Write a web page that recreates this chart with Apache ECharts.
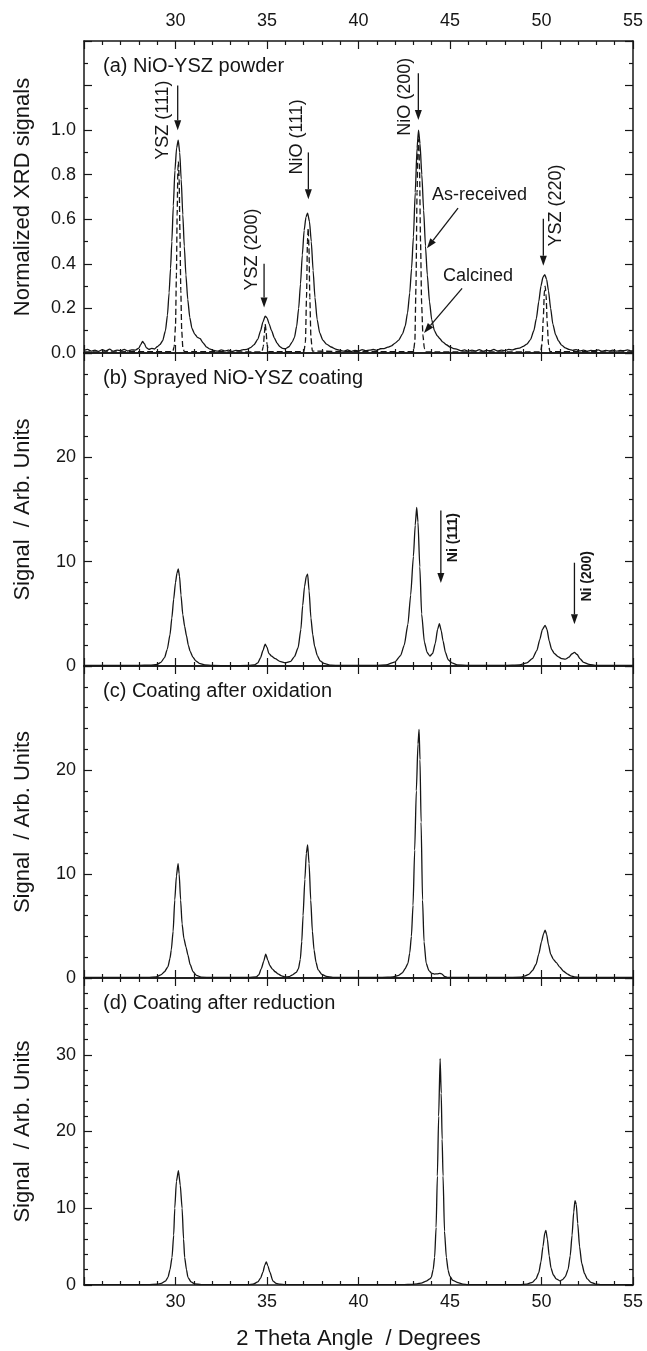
<!DOCTYPE html>
<html>
<head>
<meta charset="utf-8">
<title>XRD patterns of NiO-YSZ</title>
<script src="https://cdn.jsdelivr.net/npm/echarts@6/dist/echarts.min.js"></script>
<style>
  html, body { margin: 0; padding: 0; background: #fff; }
  #chart { width: 647px; height: 1351px; }
</style>
</head>
<body>
<div id="chart"></div>
<script>
// 2θ axis shared by all four panels
const angleMin = 25
const angleMax = 55
const angleStep = 5

const panelTitles = ['(a) NiO-YSZ powder', '(b) Sprayed NiO-YSZ coating', '(c) Coating after oxidation', '(d) Coating after reduction']
const yNames = ['Normalized XRD signals', 'Signal  / Arb. Units', 'Signal  / Arb. Units', 'Signal  / Arb. Units']
const yMax = [1.4, 30, 30, 40]
const yStep = [0.2, 10, 10, 10]
const yMinorSplit = [2, 5, 5, 5]

// (a) powder, as-received (solid) and calcined (dashed)
const asReceived = [
  [25.0,0.012],[25.2,0.016],[25.4,0.008],[25.6,0.013],[25.8,0.007],[26.0,0.015],[26.2,0.009],[26.4,0.017],[26.6,0.008],[26.8,0.013],
  [27.0,0.01],[27.2,0.016],[27.4,0.009],[27.6,0.014],[27.8,0.013],[28.0,0.022],[28.1,0.038],[28.2,0.052],[28.3,0.042],[28.4,0.024],
  [28.55,0.016],[28.7,0.021],[28.85,0.018],[29.0,0.028],[29.15,0.038],[29.3,0.055],[29.45,0.1],[29.56,0.17],[29.65,0.27],[29.73,0.38],
  [29.8,0.5],[29.88,0.66],[29.97,0.82],[30.06,0.92],[30.15,0.955],[30.23,0.9],[30.31,0.78],[30.4,0.62],[30.48,0.48],[30.57,0.35],
  [30.67,0.24],[30.78,0.16],[30.9,0.11],[31.05,0.085],[31.2,0.07],[31.35,0.064],[31.5,0.046],[31.7,0.026],[31.9,0.017],[32.1,0.012],
  [32.3,0.008],[32.5,0.014],[32.7,0.009],[32.9,0.013],[33.1,0.007],[33.3,0.012],[33.5,0.01],[33.7,0.015],[33.9,0.016],[34.1,0.024],
  [34.3,0.038],[34.5,0.062],[34.65,0.1],[34.78,0.14],[34.9,0.165],[35.0,0.158],[35.12,0.13],[35.25,0.1],[35.4,0.068],[35.55,0.044],
  [35.7,0.029],[35.85,0.021],[36.0,0.019],[36.2,0.028],[36.38,0.05],[36.5,0.07],[36.62,0.12],[36.73,0.2],[36.83,0.31],[36.93,0.44],
  [37.03,0.55],[37.13,0.61],[37.22,0.628],[37.32,0.59],[37.42,0.5],[37.52,0.37],[37.62,0.25],[37.74,0.15],[37.88,0.09],[38.05,0.058],
  [38.25,0.04],[38.5,0.027],[38.8,0.016],[39.0,0.012],[39.2,0.008],[39.4,0.014],[39.6,0.007],[39.8,0.012],[40.0,0.009],[40.2,0.015],
  [40.4,0.01],[40.6,0.013],[40.8,0.016],[41.0,0.012],[41.2,0.019],[41.4,0.02],[41.6,0.026],[41.8,0.032],[42.0,0.044],[42.2,0.058],
  [42.4,0.085],[42.55,0.12],[42.68,0.18],[42.8,0.27],[42.9,0.38],[43.0,0.52],[43.1,0.72],[43.2,0.92],[43.28,1.0],[43.36,0.94],
  [43.46,0.8],[43.56,0.64],[43.66,0.48],[43.76,0.35],[43.88,0.23],[44.0,0.15],[44.15,0.1],[44.3,0.078],[44.45,0.064],[44.6,0.05],
  [44.8,0.037],[45.0,0.027],[45.2,0.02],[45.4,0.016],[45.6,0.01],[45.8,0.014],[46.0,0.008],[46.2,0.013],[46.4,0.009],[46.6,0.015],
  [46.8,0.008],[47.0,0.012],[47.2,0.01],[47.4,0.016],[47.6,0.009],[47.8,0.013],[48.0,0.011],[48.2,0.016],[48.4,0.014],[48.6,0.019],
  [48.8,0.022],[49.0,0.03],[49.2,0.04],[49.4,0.06],[49.58,0.1],[49.72,0.155],[49.85,0.23],[49.97,0.3],[50.08,0.34],[50.18,0.352],
  [50.28,0.33],[50.38,0.28],[50.5,0.2],[50.62,0.13],[50.77,0.082],[50.93,0.054],[51.1,0.035],[51.3,0.023],[51.5,0.016],[51.7,0.012],
  [51.9,0.015],[52.1,0.009],[52.3,0.013],[52.5,0.008],[52.7,0.012],[52.9,0.01],[53.1,0.014],[53.3,0.008],[53.5,0.012],[53.7,0.009],
  [53.9,0.013],[54.1,0.008],[54.3,0.012],[54.5,0.01],[54.7,0.014],[54.9,0.009],[55.0,0.011]
]
const calcined = [
  [25.0,0.005],[29.85,0.006],[29.93,0.03],[30.0,0.12],[30.05,0.35],[30.09,0.62],[30.13,0.82],[30.16,0.86],[30.2,0.78],[30.24,0.55],
  [30.29,0.28],[30.34,0.1],[30.4,0.025],[30.48,0.006],
  [34.72,0.005],[34.8,0.03],[34.86,0.09],[34.9,0.13],[34.95,0.1],[35.0,0.04],[35.08,0.006],
  [37.02,0.006],[37.1,0.05],[37.16,0.25],[37.21,0.5],[37.25,0.56],[37.29,0.48],[37.34,0.25],[37.4,0.07],[37.48,0.008],
  [43.0,0.006],[43.08,0.05],[43.14,0.3],[43.2,0.72],[43.25,0.93],[43.29,0.96],[43.33,0.85],[43.39,0.5],[43.45,0.22],[43.52,0.08],
  [43.6,0.02],[43.66,0.005],
  [49.95,0.005],[50.03,0.04],[50.1,0.16],[50.16,0.28],[50.2,0.3],[50.25,0.26],[50.31,0.14],[50.38,0.04],[50.46,0.006],[55.0,0.005]
]

// (b) sprayed coating
const sprayed = [
  [25.0,0.05],[26.0,0.05],[27.0,0.05],[28.0,0.06],[28.6,0.08],[29.0,0.15],[29.2,0.35],[29.4,0.8],[29.55,1.6],[29.7,3.0],
  [29.8,4.6],[29.9,6.4],[30.0,8.0],[30.08,8.9],[30.15,9.3],[30.22,8.6],[30.3,6.8],[30.4,4.9],[30.5,3.8],[30.6,2.9],
  [30.7,2.0],[30.8,1.4],[30.95,0.85],[31.1,0.5],[31.3,0.25],[31.6,0.1],[32.0,0.05],[33.0,0.04],[34.0,0.05],[34.3,0.1],
  [34.5,0.3],[34.65,0.8],[34.78,1.5],[34.9,2.1],[35.0,1.8],[35.1,1.2],[35.25,0.95],[35.45,0.7],[35.7,0.45],[36.0,0.3],
  [36.3,0.45],[36.5,0.9],[36.7,1.75],[36.85,3.5],[36.95,5.8],[37.05,7.6],[37.15,8.6],[37.22,8.8],[37.3,7.2],[37.4,4.6],
  [37.5,3.0],[37.6,1.9],[37.75,1.0],[37.9,0.5],[38.1,0.25],[38.5,0.08],[39.0,0.05],[40.0,0.05],[41.0,0.05],[41.5,0.1],
  [42.0,0.4],[42.3,1.0],[42.5,2.0],[42.7,4.0],[42.85,6.8],[43.0,10.5],[43.1,13.5],[43.18,15.2],[43.25,13.8],[43.35,9.5],
  [43.45,5.0],[43.6,2.3],[43.75,1.3],[43.9,0.95],[44.05,1.2],[44.2,2.2],[44.32,3.5],[44.42,4.05],[44.52,3.4],[44.62,2.4],
  [44.75,1.3],[44.9,0.6],[45.1,0.3],[45.4,0.1],[46.0,0.05],[47.0,0.05],[48.0,0.05],[48.8,0.1],[49.2,0.3],[49.5,0.7],
  [49.75,1.5],[49.9,2.5],[50.05,3.5],[50.2,3.9],[50.3,3.5],[50.42,2.4],[50.55,1.6],[50.7,1.2],[50.9,0.9],[51.1,0.7],
  [51.3,0.65],[51.5,0.85],[51.65,1.15],[51.8,1.3],[51.95,1.1],[52.1,0.7],[52.3,0.35],[52.6,0.15],[53.0,0.05],[54.0,0.05],[55.0,0.05]
]

// (c) after oxidation
const oxidized = [
  [25.0,0.05],[27.0,0.05],[28.5,0.06],[28.95,0.1],[29.2,0.3],[29.4,0.6],[29.59,1.1],[29.7,1.9],[29.77,2.7],[29.87,4.5],
  [29.96,7.5],[30.05,9.8],[30.14,11.0],[30.2,10.0],[30.28,7.5],[30.36,5.2],[30.46,3.8],[30.57,3.0],[30.68,2.2],[30.8,1.3],
  [30.96,0.6],[31.15,0.25],[31.4,0.08],[32.0,0.05],[34.0,0.05],[34.4,0.1],[34.55,0.3],[34.69,0.9],[34.82,1.6],[34.93,2.3],
  [35.05,1.7],[35.15,1.2],[35.3,0.85],[35.45,0.6],[35.6,0.4],[35.8,0.2],[35.97,0.1],[36.2,0.12],[36.4,0.3],[36.6,0.55],
  [36.72,0.9],[36.82,1.8],[36.9,3.5],[36.97,6.0],[37.07,9.5],[37.15,12.0],[37.22,12.8],[37.3,11.0],[37.39,7.5],[37.48,4.5],
  [37.57,2.7],[37.68,1.5],[37.79,0.8],[38.0,0.35],[38.24,0.15],[38.6,0.06],[39.5,0.05],[41.0,0.05],[41.6,0.08],[41.89,0.1],
  [42.2,0.25],[42.4,0.5],[42.55,0.9],[42.7,1.4],[42.8,2.4],[42.89,4.0],[42.98,7.0],[43.07,12.3],[43.16,18.0],[43.25,22.5],
  [43.31,23.9],[43.36,21.0],[43.42,15.0],[43.5,7.5],[43.58,3.5],[43.7,1.4],[43.85,0.7],[44.0,0.45],[44.15,0.38],[44.3,0.4],
  [44.45,0.45],[44.55,0.4],[44.7,0.15],[44.85,0.05],[46.0,0.05],[48.0,0.05],[48.86,0.08],[49.1,0.2],[49.3,0.35],[49.5,0.7],
  [49.7,1.3],[49.85,2.3],[50.0,3.5],[50.12,4.3],[50.2,4.6],[50.28,4.2],[50.38,3.2],[50.5,2.3],[50.65,1.8],[50.8,1.5],
  [51.0,1.05],[51.2,0.65],[51.4,0.4],[51.6,0.2],[51.8,0.1],[52.1,0.05],[55.0,0.05]
]

// (d) after reduction
const reduced = [
  [25.0,0.05],[28.5,0.05],[29.0,0.1],[29.22,0.2],[29.45,0.5],[29.59,1.0],[29.7,2.0],[29.81,3.6],[29.9,6.5],[29.96,10.0],
  [30.05,13.5],[30.16,14.9],[30.26,13.0],[30.36,10.0],[30.44,6.0],[30.5,3.6],[30.6,2.0],[30.68,1.0],[30.85,0.4],[31.05,0.15],
  [31.4,0.05],[34.0,0.05],[34.23,0.1],[34.5,0.4],[34.65,0.9],[34.78,1.7],[34.88,2.6],[34.96,3.0],[35.05,2.5],[35.15,1.7],
  [35.33,0.5],[35.5,0.2],[35.7,0.1],[36.0,0.05],[42.5,0.05],[42.89,0.08],[43.2,0.15],[43.43,0.25],[43.7,0.5],[43.9,0.8],
  [43.98,1.0],[44.08,2.0],[44.16,3.6],[44.24,7.5],[44.31,14.2],[44.38,22.0],[44.46,29.5],[44.52,25.0],[44.57,19.0],[44.62,14.2],
  [44.7,7.0],[44.8,3.6],[44.9,1.9],[44.98,1.2],[45.15,0.6],[45.44,0.3],[45.7,0.12],[45.98,0.05],[48.8,0.05],[49.2,0.12],
  [49.5,0.35],[49.7,0.8],[49.85,1.6],[49.97,3.0],[50.08,5.0],[50.18,6.8],[50.24,7.1],[50.32,6.0],[50.42,3.8],[50.52,2.2],
  [50.65,1.3],[50.8,0.8],[51.0,0.55],[51.15,0.7],[51.3,1.1],[51.45,2.0],[51.57,3.8],[51.67,6.5],[51.76,9.5],[51.83,11.0],
  [51.9,10.5],[51.98,8.0],[52.08,5.0],[52.2,2.8],[52.35,1.5],[52.5,0.8],[52.7,0.35],[52.95,0.12],[53.3,0.05],[55.0,0.05]
]

// peak labels: arrow at x from y0 down to y1, vertical text centred at (tx, ty)
const peakLabelsA = [
  { text: 'YSZ (111)', x: 30.12, y0: 1.2, y1: 1.0, tx: 29.33, ty: 1.045 },
  { text: 'YSZ (200)', x: 34.84, y0: 0.4, y1: 0.204, tx: 34.16, ty: 0.464 },
  { text: 'NiO (111)', x: 37.26, y0: 0.9, y1: 0.69, tx: 36.62, ty: 0.97 },
  { text: 'NiO (200)', x: 43.27, y0: 1.255, y1: 1.045, tx: 42.54, ty: 1.15 },
  { text: 'YSZ (220)', x: 50.1, y0: 0.602, y1: 0.392, tx: 50.78, ty: 0.662 }
]
const peakLabelsB = [
  { text: 'Ni (111)', x: 44.5, y0: 14.9, y1: 7.96, tx: 45.16, ty: 12.3 },
  { text: 'Ni (200)', x: 51.8, y0: 9.9, y1: 4.0, tx: 52.49, ty: 8.6 }
]
// curve labels in (a): text left/centre, arrow tail -> head
const curveLabels = [
  { text: 'As-received', tx: 44.02, ty: 0.71, tail: [45.44, 0.65], head: [43.74, 0.47] },
  { text: 'Calcined', tx: 44.62, ty: 0.347, tail: [45.66, 0.29], head: [43.58, 0.09] }
]

const FONT = '"Liberation Sans", Arial, Helvetica, sans-serif'
const INK = '#161616'
const panelTop = [41, 353, 666, 978]
const panelHeight = [312, 313, 312, 313]

const chart = echarts.init(document.getElementById('chart'))

const grids = []
const xAxes = []
const yAxes = []
const tickStyle = { color: INK, width: 1.2 }
const lineStyleAxis = { color: INK, width: 1.5 }

for (let g = 0; g < 4; g++) {
  grids.push({ left: 84, right: 14, top: panelTop[g], height: panelHeight[g] })

  const xBase = {
    gridIndex: g,
    type: 'value',
    min: angleMin,
    max: angleMax,
    interval: angleStep,
    axisLine: { show: true, onZero: false, lineStyle: lineStyleAxis },
    axisTick: { show: true, inside: true, length: 8, lineStyle: tickStyle },
    minorTick: { show: true, splitNumber: 5, length: 4, lineStyle: tickStyle },
    splitLine: { show: false },
    axisLabel: {
      fontFamily: FONT, fontSize: 18, color: INK,
      formatter: v => (v === angleMin ? '' : String(v))
    }
  }
  xAxes.push(Object.assign({}, xBase, {
    position: 'bottom',
    axisLabel: Object.assign({}, xBase.axisLabel, { show: g === 3, margin: 8 }),
    name: g === 3 ? '2 Theta Angle  / Degrees' : '',
    nameLocation: 'middle',
    nameGap: 43,
    nameTextStyle: { fontFamily: FONT, fontSize: 22, color: INK }
  }))
  xAxes.push(Object.assign({}, xBase, {
    position: 'top',
    axisLabel: Object.assign({}, xBase.axisLabel, { show: g === 0, margin: 11 })
  }))

  const yBase = {
    gridIndex: g,
    type: 'value',
    min: 0,
    max: yMax[g],
    interval: yStep[g],
    axisLine: { show: true, onZero: false, lineStyle: lineStyleAxis },
    axisTick: { show: true, inside: true, length: 8, lineStyle: tickStyle },
    minorTick: { show: true, splitNumber: yMinorSplit[g], length: 4, lineStyle: tickStyle },
    splitLine: { show: false }
  }
  yAxes.push(Object.assign({}, yBase, {
    position: 'left',
    axisLabel: {
      fontFamily: FONT, fontSize: 18, color: INK, margin: 8,
      formatter: g === 0
        ? v => (v > 1.001 ? '' : v.toFixed(1))
        : v => (v >= yMax[g] ? '' : String(v))
    },
    name: yNames[g],
    nameLocation: 'middle',
    nameGap: 50,
    nameTextStyle: { fontFamily: FONT, fontSize: 22, color: INK }
  }))
  yAxes.push(Object.assign({}, yBase, {
    position: 'right',
    axisLabel: { show: false }
  }))
}

const curve = (g, data, dashed) => ({
  type: 'line',
  xAxisIndex: 2 * g,
  yAxisIndex: 2 * g,
  data: data,
  showSymbol: false,
  symbol: 'none',
  smooth: 0.2,
  smoothMonotone: 'x',
  lineStyle: { color: INK, width: 1.3, type: dashed ? [6, 3] : 'solid' },
  silent: true
})

chart.setOption({
  animation: false,
  backgroundColor: '#fff',
  grid: grids,
  xAxis: xAxes,
  yAxis: yAxes,
  series: [
    curve(0, asReceived, false),
    curve(0, calcined, true),
    curve(1, sprayed, false),
    curve(2, oxidized, false),
    curve(3, reduced, false)
  ]
})

// annotations positioned from data coordinates
const toPx = (g, pt) => chart.convertToPixel({ xAxisIndex: 2 * g, yAxisIndex: 2 * g }, pt)
const elements = []

function arrow(g, tail, head, headLen, headHalf) {
  const a = toPx(g, tail)
  const b = toPx(g, head)
  const dx = b[0] - a[0]
  const dy = b[1] - a[1]
  const len = Math.hypot(dx, dy)
  const ux = dx / len
  const uy = dy / len
  const bx = b[0] - ux * headLen
  const by = b[1] - uy * headLen
  elements.push({ type: 'line', silent: true, shape: { x1: a[0], y1: a[1], x2: bx, y2: by }, style: { stroke: INK, lineWidth: 1.3 } })
  elements.push({
    type: 'polygon', silent: true,
    shape: { points: [[b[0], b[1]], [bx - uy * headHalf, by + ux * headHalf], [bx + uy * headHalf, by - ux * headHalf]] },
    style: { fill: INK }
  })
}

function label(g, x, y, text, opts) {
  const p = toPx(g, [x, y])
  elements.push({
    type: 'text', silent: true,
    x: p[0], y: p[1],
    rotation: opts.rotate ? Math.PI / 2 : 0,
    style: {
      text: text,
      fontFamily: FONT,
      fontSize: opts.size,
      fontWeight: opts.weight || 'normal',
      fill: INK,
      align: opts.align || 'center',
      verticalAlign: 'middle',
      textAlign: opts.align || 'center',
      textVerticalAlign: 'middle'
    }
  })
}

peakLabelsA.forEach(d => {
  arrow(0, [d.x, d.y0], [d.x, d.y1], 10, 3.5)
  label(0, d.tx, d.ty, d.text, { size: 18, rotate: true })
})
peakLabelsB.forEach(d => {
  arrow(1, [d.x, d.y0], [d.x, d.y1], 10, 3.5)
  label(1, d.tx, d.ty, d.text, { size: 14, weight: 'bold', rotate: true })
})
curveLabels.forEach(d => {
  arrow(0, d.tail, d.head, 10, 3.5)
  label(0, d.tx, d.ty, d.text, { size: 18, align: 'left' })
})

panelTitles.forEach((t, g) => {
  elements.push({
    type: 'text', silent: true,
    x: 103, y: panelTop[g] + 25,
    style: {
      text: t, fontFamily: FONT, fontSize: 20, fill: INK,
      align: 'left', verticalAlign: 'middle', textAlign: 'left', textVerticalAlign: 'middle'
    }
  })
})

chart.setOption({ graphic: { elements: elements } })
</script>
</body>
</html>
